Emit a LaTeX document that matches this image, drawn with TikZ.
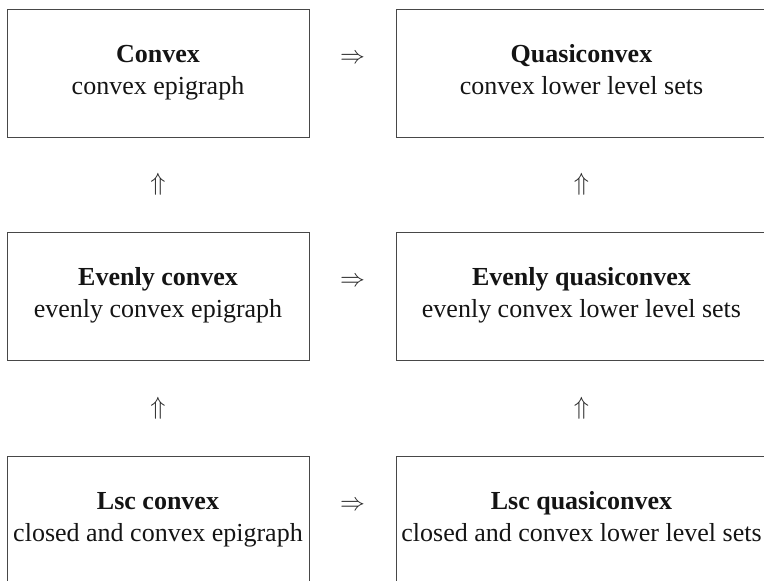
\documentclass[tikz,border=0pt]{standalone}
\usepackage{fontspec}
\setmainfont{Liberation Serif}
\usetikzlibrary{calc}
\begin{document}
\begin{tikzpicture}[x=1pt,y=-1pt,
  prop/.style={draw=black!72, line width=1pt, text=black!92, align=center,
    font=\fontsize{26}{32}\selectfont, inner sep=0pt, minimum height=128pt,
    % fixed strut on the first and last lines keeps every box's baselines equal
    execute at begin node={\rule{0pt}{19pt}},
    execute at end node={\rule[-7pt]{0pt}{7pt}}},
  leftcol/.style={prop, minimum width=302pt},
  rightcol/.style={prop, minimum width=371pt},
  impl/.style={text=black!85, font=\fontsize{25}{30}\selectfont, inner sep=0pt}]
\useasboundingbox (0,0) rectangle (764,581);
\clip (0,0) rectangle (764,581);

% property boxes: left column (convexity of the epigraph), right column (lower level sets)
\node[leftcol]  (cvx)  at (158,73)    {\textbf{Convex}\\convex epigraph};
\node[rightcol] (qcvx) at (581.5,73)  {\textbf{Quasiconvex}\\convex lower level sets};
\node[leftcol]  (ecvx) at (158,296)   {\textbf{Evenly convex}\\evenly convex epigraph};
\node[rightcol] (eqcvx) at (581.5,296) {\textbf{Evenly quasiconvex}\\evenly convex lower level sets};
\node[leftcol]  (lcvx) at (158,520)   {\textbf{Lsc convex}\\closed and convex epigraph};
\node[rightcol] (lqcvx) at (581.5,520) {\textbf{Lsc quasiconvex}\\closed and convex lower level sets};

% horizontal implications
\node[impl, anchor=base] (h1) at ($(cvx.east)!0.5!(qcvx.west)+(0,-10)$)  {$\Rightarrow$};
\node[impl, anchor=base] (h2) at ($(ecvx.east)!0.5!(eqcvx.west)+(0,-10)$) {$\Rightarrow$};
\node[impl, anchor=base] (h3) at ($(lcvx.east)!0.5!(lqcvx.west)+(0,-10)$) {$\Rightarrow$};

% vertical implications
\node[impl] (v1) at ($(cvx.south)!0.5!(ecvx.north)$)   {$\Uparrow$};
\node[impl] (v2) at ($(qcvx.south)!0.5!(eqcvx.north)$) {$\Uparrow$};
\node[impl] (v3) at ($(ecvx.south)!0.5!(lcvx.north)$)  {$\Uparrow$};
\node[impl] (v4) at ($(eqcvx.south)!0.5!(lqcvx.north)$) {$\Uparrow$};
\end{tikzpicture}
\end{document}
